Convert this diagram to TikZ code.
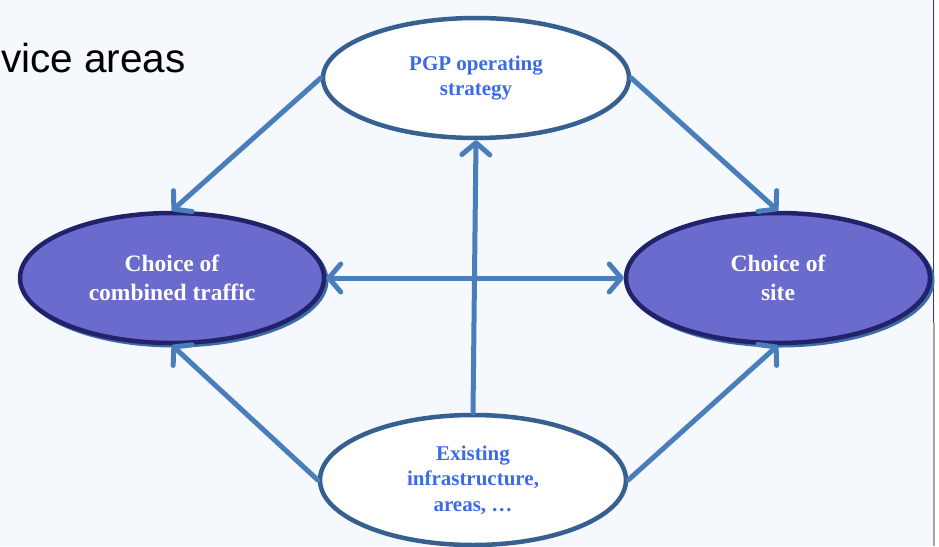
\documentclass[tikz,border=0pt]{standalone}
\usepackage{fontspec}
\setmainfont{Liberation Serif}
\newfontfamily\titlefont{Liberation Sans}
\usetikzlibrary{shapes.geometric,arrows.meta}
\definecolor{bgc}{HTML}{F5F9FD}
\definecolor{ringc}{HTML}{36608F}
\definecolor{arrc}{HTML}{4A7EBB}
\definecolor{purp}{HTML}{6B6BCE}
\definecolor{navy}{HTML}{22226A}
\definecolor{shad}{HTML}{3D6CA6}
\definecolor{txtblue}{HTML}{3D6BE6}
\tikzset{
  whiteell/.style={ellipse, draw=ringc, line width=4.5pt, fill=white, inner sep=0pt,
    minimum width=306pt, minimum height=120pt, align=center, text=txtblue,
    font=\fontsize{21}{25.5}\selectfont\bfseries},
  purpell/.style={ellipse, draw=navy, line width=4.5pt, fill=purp, inner sep=0pt,
    minimum width=304pt, minimum height=130pt, align=center, text=white,
    font=\fontsize{23.5}{29}\selectfont\bfseries},
  shadell/.style={ellipse, fill=shad, inner sep=0pt, minimum width=308pt, minimum height=134pt},
  conn/.style={draw=arrc, line width=5pt, line cap=round,
    -{Straight Barb[length=12pt,width=28pt,line cap=round,round]}},
  biconn/.style={draw=arrc, line width=5pt, line cap=round,
    {Straight Barb[length=12pt,width=28pt,line cap=round,round]}-{Straight Barb[length=12pt,width=28pt,line cap=round,round]}}
}
\begin{document}
\begin{tikzpicture}[x=1pt,y=-1pt]
\fill[bgc] (0,0) rectangle (939,546);
\useasboundingbox (0,0) rectangle (939,546);
\fill[white] (935,0) rectangle (939,546);
\draw[line width=1.5pt, black!75] (933.5,0) -- (933.5,323);
\draw[line width=2pt, black!35] (933.5,323) -- (933.5,546);
\node[anchor=base west, inner sep=0pt, font=\titlefont\fontsize{40.5}{48}\selectfont] (title) at (1,72) {vice areas};
% shadows
\node[shadell] (lsh) at (174.5,280.5) {};
\node[shadell] (rsh) at (780.5,280.5) {};
% ellipses
\node[whiteell] (pgp) at (476,78) {PGP operating\\strategy};
\node[purpell] (comb) at (172,278) {Choice of\\combined traffic};
\node[purpell] (site) at (778,278) {Choice of\\site};
\node[whiteell, minimum height=130pt] (exist) at (473,480) {Existing\\infrastructure,\\areas, \ldots};
% connectors
\draw[conn] (pgp.west) -- (comb.north);
\draw[conn] (pgp.east) -- (site.north);
\draw[conn] (exist.north) -- (pgp.south);
\draw[biconn] (comb.east) -- (site.west);
\draw[conn] (exist.west) -- (comb.south);
\draw[conn] (exist.east) -- (site.south);
\end{tikzpicture}
\end{document}
